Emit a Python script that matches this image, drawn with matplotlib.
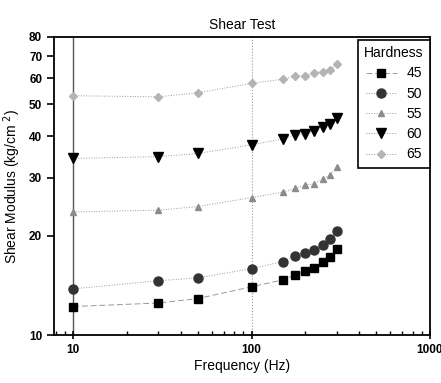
import matplotlib
matplotlib.use("Agg")
import matplotlib.pyplot as plt
from matplotlib.ticker import FixedLocator, FixedFormatter, LogLocator, NullFormatter

# =========================
# DATA
# =========================
freq = [10, 30, 50, 100, 150, 175, 200, 225, 250, 275, 300]

h45 = [12.2, 12.5, 12.9, 14.0, 14.7, 15.2, 15.6, 16.0, 16.6, 17.2, 18.2]
h50 = [13.8, 14.6, 14.9, 15.9, 16.7, 17.3, 17.7, 18.1, 18.8, 19.5, 20.6]
h55 = [23.6, 23.9, 24.5, 26.1, 27.1, 27.8, 28.5, 28.7, 29.8, 30.5, 32.2]
h60 = [34.3, 34.7, 35.5, 37.7, 39.3, 40.4, 40.6, 41.6, 42.8, 43.6, 45.4]
h65 = [53.1, 52.7, 54.2, 57.9, 59.6, 61.0, 61.0, 62.4, 62.8, 63.5, 66.1]

labels = ["45", "50", "55", "60", "65"]
series = [h45, h50, h55, h60, h65]

yticks = [10, 20, 30, 40, 50, 60, 70, 80]
xticks = [10, 100, 1000]

# =========================
# STYLE
# =========================
plt.rcParams['font.family'] = ['Liberation Sans', 'DejaVu Sans']

markers = ['s', 'o', '^', 'v', 'D']
colors = ['#000000', '#333333', '#8c8c8c', '#000000', '#b4b4b4']
sizes = [6, 6.5, 5, 7, 4.5]
lstyles = [(0, (6, 3)), ':', ':', ':', ':']

fig = plt.figure(figsize=(4.41, 3.83), dpi=100)
ax = fig.add_axes([0.1224, 0.1253, 0.8526, 0.7781])

# vertical grid lines at decades
ax.axvline(10, color='#555555', lw=1.0, zorder=0)
ax.axvline(100, color='#999999', lw=0.8, ls=':', zorder=0)

for vals, lab, m, c, s, ls in zip(series, labels, markers, colors, sizes, lstyles):
    ax.plot(freq, vals, linestyle=ls, color='#999999', lw=0.7,
            marker=m, markersize=s, markerfacecolor=c, markeredgecolor=c,
            label=lab)

ax.set_xscale('log')
ax.set_yscale('log')
ax.set_xlim(7.8, 1000)
ax.set_ylim(10, 80)

ax.yaxis.set_major_locator(FixedLocator(yticks))
ax.yaxis.set_major_formatter(FixedFormatter([str(v) for v in yticks]))
ax.yaxis.set_minor_locator(FixedLocator([]))
ax.xaxis.set_major_locator(FixedLocator(xticks))
ax.xaxis.set_major_formatter(FixedFormatter([str(v) for v in xticks]))
ax.xaxis.set_minor_locator(LogLocator(base=10, subs=range(2, 10)))
ax.xaxis.set_minor_formatter(NullFormatter())

ax.tick_params(axis='x', which='major', direction='inout', length=6, width=1.2, labelsize=8.5)
ax.tick_params(axis='x', which='minor', direction='in', length=3, width=1)
ax.tick_params(axis='y', which='major', direction='out', length=5, width=1.2, labelsize=8.5)
for t in ax.get_xticklabels() + ax.get_yticklabels():
    t.set_fontweight('bold')

for sp in ax.spines.values():
    sp.set_linewidth(1.3)

ax.set_xlabel("Frequency (Hz)", fontsize=10, labelpad=2)
ax.set_ylabel("Shear Modulus (kg/cm $^{2}$)", fontsize=10)
ax.set_title("Shear Test", fontsize=10, pad=6)

leg = ax.legend(title="Hardness", loc='upper right', bbox_to_anchor=(1.0, 0.99),
                fontsize=10, title_fontsize=10,
                frameon=True, fancybox=False, edgecolor='black', framealpha=1,
                borderaxespad=0, handlelength=2.2, labelspacing=0.45,
                borderpad=0.45, handletextpad=0.7)
leg.get_frame().set_linewidth(1.2)

fig.savefig("out.png", dpi=100)
